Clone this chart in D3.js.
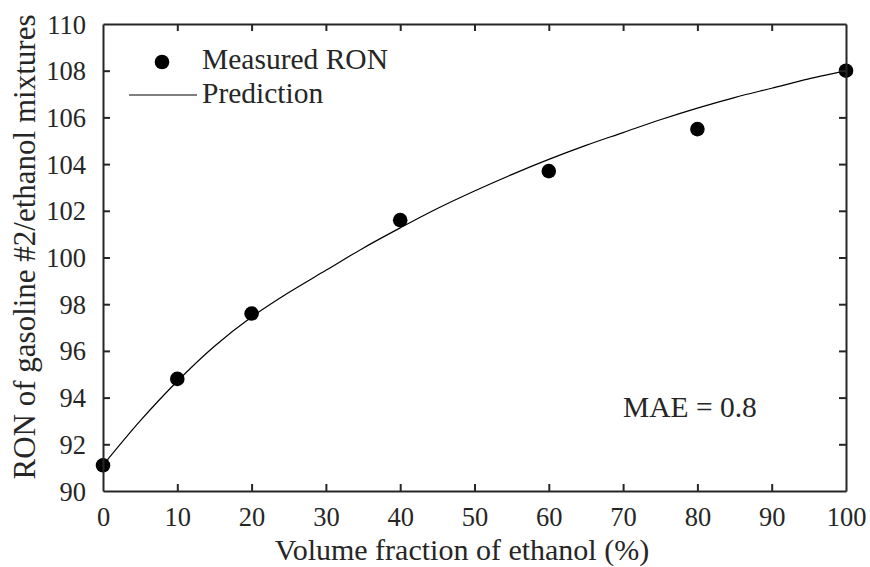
<!DOCTYPE html>
<html><head><meta charset="utf-8">
<script src="https://cdn.jsdelivr.net/npm/d3@7"></script>
</head>
<body style="margin:0;background:#fff"><svg id="c" width="870" height="567"></svg>
<script>
const measuredX = [0, 10, 20, 40, 60, 80, 100];
const measuredRON = [91.1, 94.8, 97.6, 101.6, 103.7, 105.5, 108.0];
const predX = [0,5,10,15,20,25,30,35,40,45,50,55,60,65,70,75,80,85,90,95,100];
const predRON = [91.1,93.0,94.7,96.2,97.45,98.5,99.45,100.4,101.27,102.1,102.85,103.55,104.2,104.8,105.35,105.9,106.4,106.85,107.25,107.65,108.0];
const xTicks = [0,10,20,30,40,50,60,70,80,90,100];
const yTicks = [90,92,94,96,98,100,102,104,106,108,110];
const xTitle = "Volume fraction of ethanol (%)";
const yTitle = "RON of gasoline #2/ethanol mixtures";
const legendLabels = ["Measured RON", "Prediction"];
const annotation = "MAE = 0.8";

const FONT = '"Liberation Serif"';
const svg = d3.select("#c");
const L = 103, R = 846, T = 24, B = 491;
const x = d3.scaleLinear().domain([0,100]).range([L,R]);
const y = d3.scaleLinear().domain([90,110]).range([B,T]);
const axCol = "#262626", tickFs = 26.5, legFs = 29.5;

function txt(sel, size){ return sel.style("font-family",FONT).style("font-size",size+"px").attr("fill",axCol); }

// prediction line
const line = d3.line().x((d,i)=>x(predX[i])).y(d=>y(d)).curve(d3.curveCatmullRom);
svg.append("path").attr("d", line(predRON)).attr("fill","none").attr("stroke","#000").attr("stroke-width",1.2);

// points
svg.selectAll("circle.m").data(measuredRON).enter().append("circle")
  .attr("cx",(d,i)=>x(measuredX[i])).attr("cy",d=>y(d)).attr("r",7.3).attr("fill","#000");

// axes (ticks inward)
const tl = 7;
const gB = svg.append("g").attr("transform",`translate(0,${B})`)
  .call(d3.axisBottom(x).tickValues(xTicks).tickSize(-tl).tickPadding(tl+10).tickSizeOuter(0));
const gT = svg.append("g").attr("transform",`translate(0,${T})`)
  .call(d3.axisTop(x).tickValues(xTicks).tickSize(-tl).tickFormat("").tickSizeOuter(0));
const gL = svg.append("g").attr("transform",`translate(${L},0)`)
  .call(d3.axisLeft(y).tickValues(yTicks).tickSize(-tl).tickPadding(tl+10).tickSizeOuter(0));
const gR = svg.append("g").attr("transform",`translate(${R},0)`)
  .call(d3.axisRight(y).tickValues(yTicks).tickSize(-tl).tickFormat("").tickSizeOuter(0));
[gB,gT,gL,gR].forEach(g=>{
  g.attr("font-family",null).attr("font-size",null);
  g.select(".domain").attr("stroke",axCol).attr("stroke-width",2);
  g.selectAll(".tick line").attr("stroke",axCol).attr("stroke-width",2);
  txt(g.selectAll(".tick text"), tickFs);
});
[gB,gT].forEach(g=>g.selectAll(".tick line").filter(d=>d===0||d===100).remove());
[gL,gR].forEach(g=>g.selectAll(".tick line").filter(d=>d===90||d===110).remove());
gL.selectAll(".tick text").attr("dy","0.34em");
gB.selectAll(".tick text").attr("dy","0.68em");

// titles
txt(svg.append("text").attr("x",462).attr("y",560).attr("text-anchor","middle"), 30).text(xTitle);
txt(svg.append("text").attr("transform","translate(35,247) rotate(-90)").attr("text-anchor","middle"), 31).text(yTitle);

// legend
svg.append("circle").attr("cx",162).attr("cy",62).attr("r",7.3).attr("fill","#000");
txt(svg.append("text").attr("x",202).attr("y",69), legFs).text(legendLabels[0]);
svg.append("line").attr("x1",129).attr("x2",197).attr("y1",95).attr("y2",95).attr("stroke","#000").attr("stroke-width",1.2);
txt(svg.append("text").attr("x",202).attr("y",103), legFs).text(legendLabels[1]);

// annotation
txt(svg.append("text").attr("x",623).attr("y",417), legFs).text(annotation);
</script></body></html>
